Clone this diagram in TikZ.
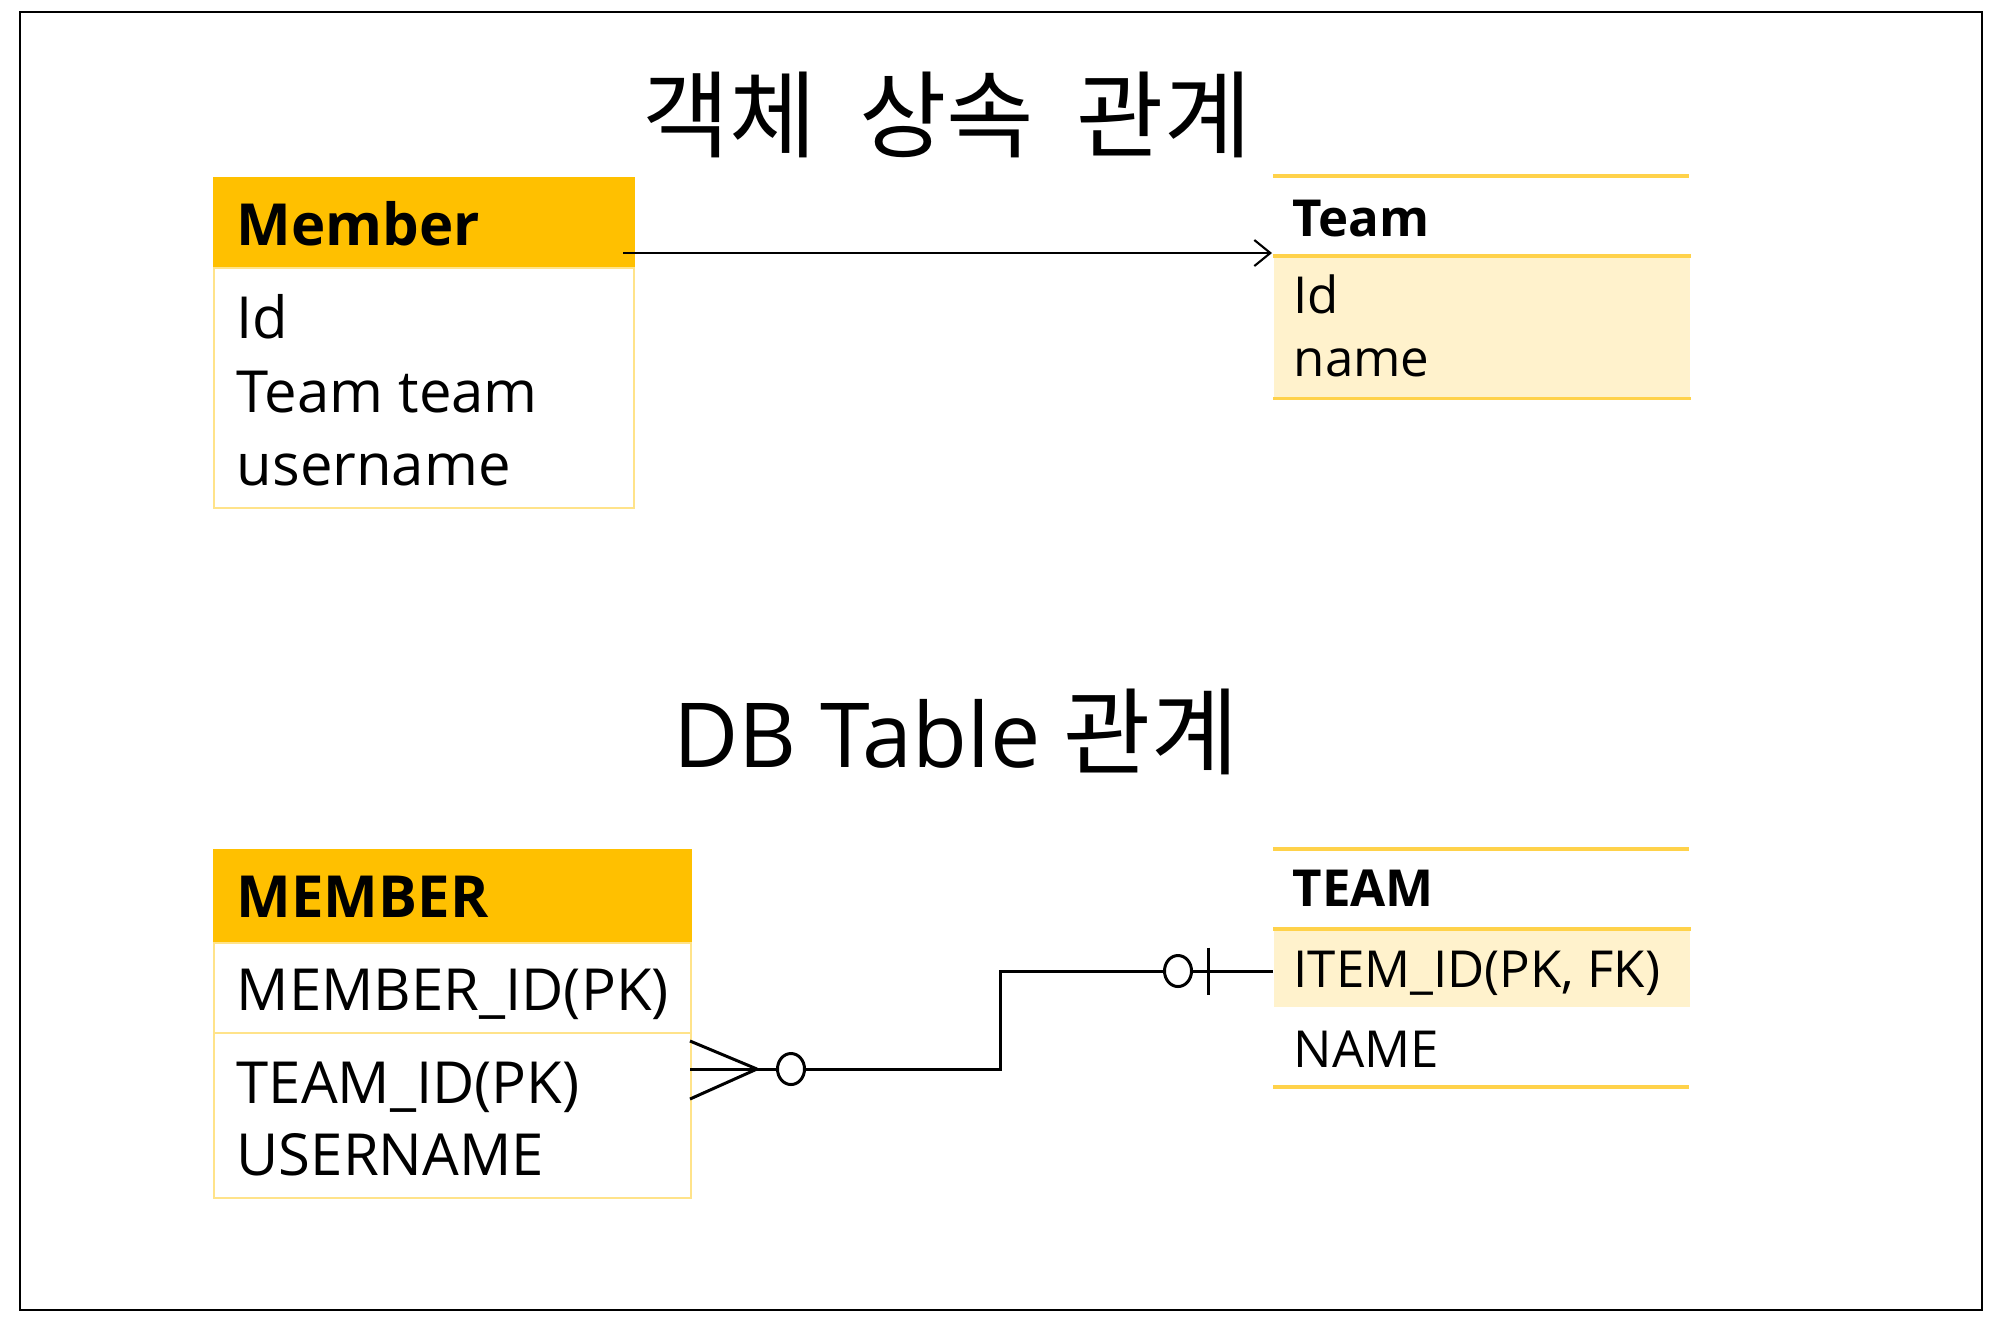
\documentclass[tikz,border=0pt]{standalone}
\usepackage{fontspec}
\setmainfont{Open Sans}
\newfontfamily\krfont{Noto Sans CJK KR}
\usetikzlibrary{arrows.meta,positioning,shapes.geometric}

\definecolor{hdrgold}{HTML}{FFC000}
\definecolor{rowcream}{HTML}{FFF2CC}
\definecolor{rulegold}{HTML}{FFD24A}
\definecolor{boxline}{HTML}{FFE38A}

\tikzset{
  hdrbox/.style={fill=hdrgold, draw=hdrgold, line width=0.5pt, anchor=north west, inner sep=0pt},
  fieldbox/.style={fill=white, draw=boxline, line width=0.6pt, anchor=north west, inner sep=0pt},
  creambox/.style={fill=rowcream, anchor=north west, inner sep=0pt},
  rulebar/.style={draw=rulegold, line width=1pt},
  memtext/.style={anchor=base west, inner sep=0pt, font=\fontsize{16.5}{20}\selectfont},
  memhdr/.style={memtext, font=\fontsize{16.5}{20}\selectfont\bfseries},
  teamtext/.style={anchor=base west, inner sep=0pt, font=\fontsize{14.5}{18}\selectfont},
  teamhdr/.style={teamtext, font=\fontsize{14.5}{18}\selectfont\bfseries},
  titletext/.style={anchor=base, inner sep=0pt},
  erline/.style={line width=0.85pt},
  ring/.style={ellipse, draw, fill=white, line width=0.85pt, inner sep=0pt, minimum width=0.27cm, minimum height=0.31cm},
}

\begin{document}
\begin{tikzpicture}[x=0.01cm, y=-0.01cm, >={Straight Barb[length=1.6mm, width=2.6mm]}]
    \useasboundingbox (0,0) rectangle (2000,1326);

    % Outer frame
    \draw[line width=0.8pt] (20,12) rectangle (1982,1310);

    % Titles
    \node[titletext] (objtitle) at (947,150) {\krfont\fontsize{27}{32}\selectfont 객체\hspace{0.45em}상속\hspace{0.45em}관계};
    \node[titletext] (dbtitle) at (956,767) {\fontsize{25.5}{30}\selectfont DB Table {\krfont\fontsize{27}{32}\selectfont 관계}};

    % Object model: Member class
    \node[hdrbox, minimum width=4.2cm, minimum height=0.9cm] (memhead) at (213,177) {};
    \node[fieldbox, minimum width=4.2cm, minimum height=2.4cm] (membody) at (213,267) {};
    \node[memhdr] (memname) at (236,245) {Member};
    \node[memtext] (memid) at (236,338) {Id};
    \node[memtext] (memteam) at (236,412) {Team team};
    \node[memtext] (memuser) at (236,485) {username};

    % Object model: Team class
    \node[creambox, minimum width=4.16cm, minimum height=1.41cm] (teambody) at (1273,256) {};
    \coordinate (teamtopL) at (1273,176);
    \coordinate (teamtopR) at (1689,176);
    \draw[rulebar] (teamtopL) -- (teamtopR);
    \draw[rulebar] (teambody.north west) -- (teambody.north east);
    \draw[rulebar] (teambody.south west) -- (teambody.south east);
    \node[teamhdr] (teamname) at (1292,236) {Team};
    \node[teamtext] (teamid) at (1293,313) {Id};
    \node[teamtext] (teamnm) at (1293,376) {name};

    % Reference Member -> Team
    \coordinate (assocfrom) at (623,253);
    \coordinate (assocto) at (1272,253);
    \draw[->, line width=0.6pt] (assocfrom) -- (assocto);

    % Tables: MEMBER
    \node[hdrbox, minimum width=4.77cm, minimum height=0.93cm] (tblmemhead) at (213,849) {};
    \node[fieldbox, minimum width=4.77cm, minimum height=0.9cm] (tblmempk) at (213,942) {};
    \node[fieldbox, minimum width=4.77cm, minimum height=1.65cm] (tblmemrest) at (213,1032) {};
    \node[memhdr] (tblmemname) at (236,917) {MEMBER};
    \node[memtext] (tblmemid) at (236,1010) {MEMBER\_ID(PK)};
    \node[memtext] (tblmemfk) at (236,1103) {TEAM\_ID(PK)};
    \node[memtext] (tblmemuser) at (236,1175) {USERNAME};

    % Tables: TEAM
    \node[creambox, minimum width=4.16cm, minimum height=0.77cm] (tblteampk) at (1273,929) {};
    \coordinate (tblteamtopL) at (1273,849);
    \coordinate (tblteamtopR) at (1689,849);
    \coordinate (tblteambotL) at (1273,1087);
    \coordinate (tblteambotR) at (1689,1087);
    \draw[rulebar] (tblteamtopL) -- (tblteamtopR);
    \draw[rulebar] (tblteampk.north west) -- (tblteampk.north east);
    \draw[rulebar] (tblteambotL) -- (tblteambotR);
    \node[teamhdr] (tblteamname) at (1292,906) {TEAM};
    \node[teamtext] (tblteamid) at (1293,987) {ITEM\_ID(PK, FK)};
    \node[teamtext] (tblteamnm) at (1293,1067) {NAME};

    % Relationship line (zero-or-many to zero-or-one)
    \coordinate (fkend) at (690,1069);
    \coordinate (crowtip) at (757,1069);
    \node[ring] (ringmany) at (791,1069) {};
    \coordinate (elbowlow) at (1000,1069);
    \coordinate (elbowhigh) at (1000,971);
    \node[ring] (ringone) at (1178,971) {};
    \coordinate (onebar) at (1208,971);
    \coordinate (pkend) at (1273,971);
    \draw[erline] (pkend) -- (ringone);
    \draw[erline] (ringone) -- (elbowhigh) -- (elbowlow) -- (ringmany);
    \draw[erline] (ringmany) -- (crowtip) -- (fkend);
    \draw[erline] (crowtip) -- ++(-67,-28);
    \draw[erline] (crowtip) -- ++(-67,30);
    \draw[erline] ([yshift=0.235cm]onebar) -- ([yshift=-0.235cm]onebar);
\end{tikzpicture}
\end{document}
